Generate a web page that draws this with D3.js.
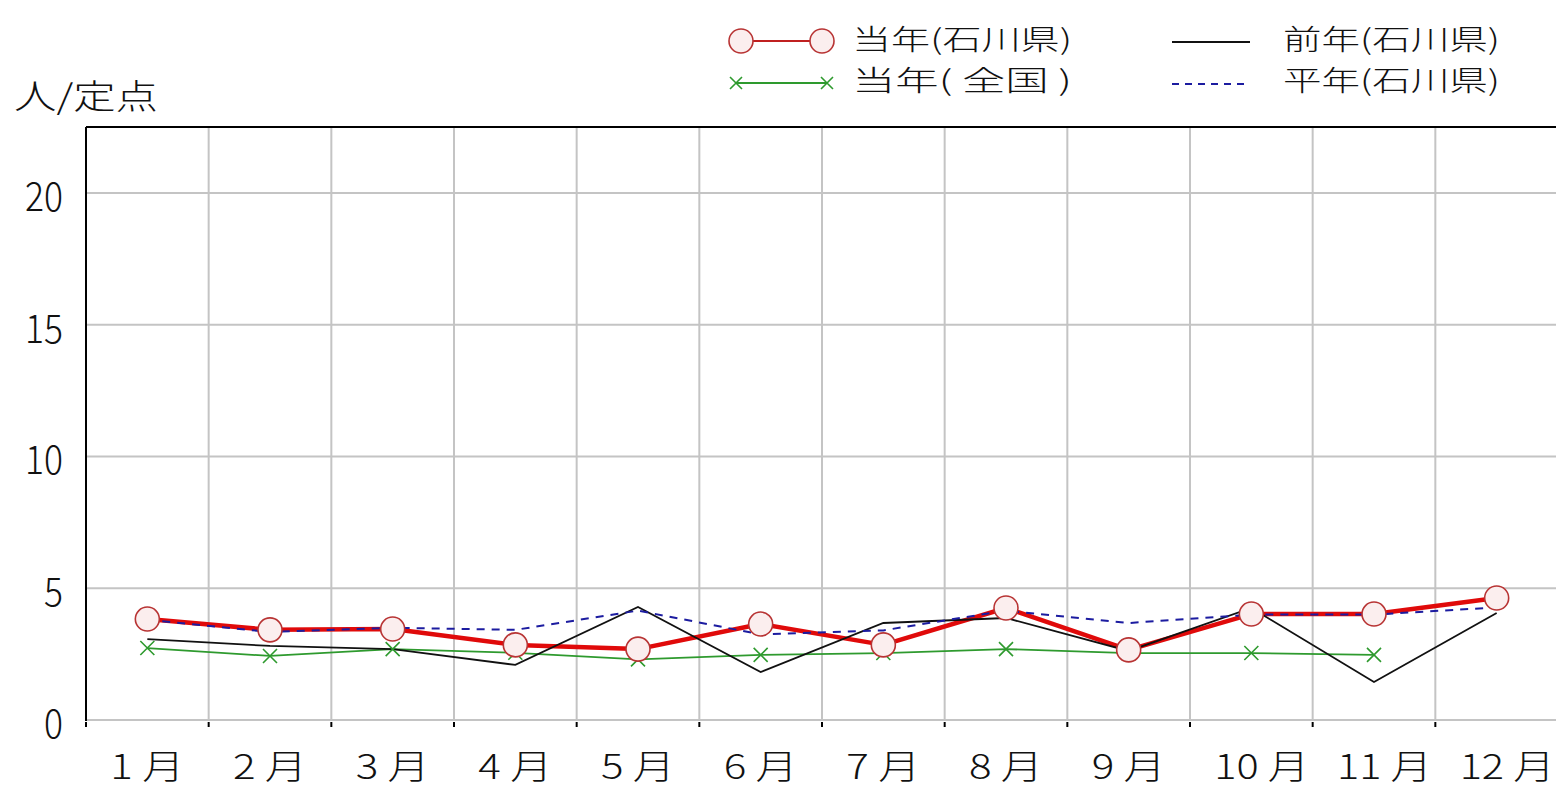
<!DOCTYPE html>
<html><head><meta charset="utf-8">
<script src="https://cdn.jsdelivr.net/npm/d3@7/dist/d3.min.js"></script>
<style>
html,body{margin:0;padding:0;background:#fff;}
svg{display:block;}
text{font-family:"Noto Sans CJK JP","Noto Sans",sans-serif;fill:#111;font-weight:300;}
</style></head>
<body>
<svg id="chart" width="1556" height="788"></svg>
<script>
const months = ["1 月","2 月","3 月","4 月","5 月","6 月","7 月","8 月","9 月","10 月","11 月","12 月"];
const yTicks = [0,5,10,15,20];
const currentPref = [3.83,3.42,3.45,2.85,2.69,3.64,2.85,4.25,2.66,4.02,4.02,4.63];
const currentNation = [2.73,2.43,2.69,2.55,2.3,2.47,2.54,2.69,2.54,2.54,2.47];
const previousPref = [3.07,2.81,2.69,2.09,4.29,1.82,3.68,3.87,2.62,4.25,1.44,4.06];
const normalPref = [3.8,3.34,3.5,3.42,4.15,3.25,3.4,4.15,3.68,4.0,4.0,4.27];
const yLabel = "人/定点";
const legendItems = [
  {key:"cur", label:"当年(石川県)"},
  {key:"nat", label:"当年( 全国 )"},
  {key:"prev", label:"前年(石川県)"},
  {key:"norm", label:"平年(石川県)"}
];

(function(){
const svg = d3.select("#chart");
const pL = 86, pR = 1558, pT = 127, pB = 720;
const x = d3.scaleBand().domain(months).range([pL, pR]).paddingInner(0).paddingOuter(0);
const y = d3.scaleLinear().domain([0, 22.5]).range([pB, pT]);
const cx = i => x(months[i]) + x.bandwidth()/2;

// grid
const grid = svg.append("g");
grid.selectAll("line.h").data(yTicks).join("line").attr("class","h")
  .attr("x1", pL).attr("x2", pR).attr("y1", d=>y(d)).attr("y2", d=>y(d))
  .attr("stroke", "#c4c4c4").attr("stroke-width", 2);
grid.selectAll("line.v").data(months.slice(1)).join("line").attr("class","v")
  .attr("x1", d=>x(d)).attr("x2", d=>x(d)).attr("y1", pT).attr("y2", pB)
  .attr("stroke", "#c4c4c4").attr("stroke-width", 2);

// x ticks (small black marks below the axis)
svg.append("g").selectAll("line").data(months).join("line")
  .attr("x1", d=>x(d)).attr("x2", d=>x(d)).attr("y1", pB+2).attr("y2", pB+7)
  .attr("stroke", "#000").attr("stroke-width", 2);

// frame: left and top
svg.append("line").attr("x1", pL).attr("x2", pL).attr("y1", pT).attr("y2", pB+1)
  .attr("stroke", "#000").attr("stroke-width", 2);
svg.append("line").attr("x1", pL).attr("x2", pR).attr("y1", pT).attr("y2", pT)
  .attr("stroke", "#000").attr("stroke-width", 2);

// y tick labels
svg.append("g").selectAll("text").data(yTicks).join("text")
  .attr("x", 63).attr("y", d=>y(d)+1)
  .attr("text-anchor", "end").attr("dominant-baseline", "central")
  .attr("font-size", 40)
  .attr("textLength", d => String(d).length * 19)
  .attr("lengthAdjust", "spacingAndGlyphs")
  .text(d=>d);

// x labels
svg.append("g").selectAll("text").data(months).join("text")
  .attr("x", (d,i)=>cx(i) - 37).attr("y", 764)
  .attr("dominant-baseline", "central")
  .attr("font-size", 34)
  .attr("textLength", d => d.length > 3 ? 95 : 74)
  .attr("lengthAdjust", "spacingAndGlyphs")
  .text(d=>d);

// y label
svg.append("text").attr("x", 14).attr("y", 94).attr("dominant-baseline", "central")
  .attr("font-size", 34).attr("textLength", 144).attr("lengthAdjust", "spacingAndGlyphs")
  .text(yLabel);

const line = d3.line().x(d=>cx(d.i)).y(d=>y(d.v));
const toPts = arr => arr.map((v,i)=>({i, v}));

// series lines
svg.append("path").datum(toPts(currentPref)).attr("d", line)
  .attr("fill","none").attr("stroke","#e00a0a").attr("stroke-width",4.5).attr("stroke-linejoin","round");
svg.append("path").datum(toPts(currentNation)).attr("d", line)
  .attr("fill","none").attr("stroke","#2e9a2e").attr("stroke-width",1.8);
svg.append("path").datum(toPts(previousPref)).attr("d", line)
  .attr("fill","none").attr("stroke","#111").attr("stroke-width",1.8);
svg.append("path").datum(toPts(normalPref)).attr("d", line)
  .attr("fill","none").attr("stroke","#1c1ca0").attr("stroke-width",2).attr("stroke-dasharray","8,7");

// green x markers
function crossPath(px, py, s){ return `M${px-s},${py-s}L${px+s},${py+s}M${px-s},${py+s}L${px+s},${py-s}`; }
svg.append("g").selectAll("path").data(toPts(currentNation)).join("path")
  .attr("d", d=>crossPath(cx(d.i), y(d.v), 7))
  .attr("stroke","#2e9a2e").attr("stroke-width",1.6).attr("fill","none");

// red circles
svg.append("g").selectAll("circle").data(toPts(currentPref)).join("circle")
  .attr("cx", d=>cx(d.i)).attr("cy", d=>y(d.v)).attr("r", 12)
  .attr("fill","#fbeeee").attr("stroke","#b83434").attr("stroke-width",1.6);

// legend
const lg = svg.append("g");
lg.append("line").attr("x1",741).attr("x2",822).attr("y1",41).attr("y2",41).attr("stroke","#c02020").attr("stroke-width",2);
[741,822].forEach(px=>lg.append("circle").attr("cx",px).attr("cy",41).attr("r",12)
  .attr("fill","#fbeeee").attr("stroke","#b83434").attr("stroke-width",1.6));
lg.append("line").attr("x1",736).attr("x2",827).attr("y1",83).attr("y2",83).attr("stroke","#2e9a2e").attr("stroke-width",1.8);
[736,827].forEach(px=>lg.append("path").attr("d",crossPath(px,83,6)).attr("stroke","#2e9a2e").attr("stroke-width",1.6));
lg.append("line").attr("x1",1172).attr("x2",1250).attr("y1",42).attr("y2",42).attr("stroke","#111").attr("stroke-width",2);
lg.append("line").attr("x1",1172).attr("x2",1250).attr("y1",84).attr("y2",84).attr("stroke","#1c1ca0").attr("stroke-width",2).attr("stroke-dasharray","7,6");

const legendPos = {cur:[852,38], nat:[852,79], prev:[1283,38], norm:[1283,79]};
lg.selectAll("text").data(legendItems).join("text")
  .attr("x", d=>legendPos[d.key][0]).attr("y", d=>legendPos[d.key][1])
  .attr("dominant-baseline","central").attr("font-size",28)
  .attr("textLength", d => d.key==="cur"||d.key==="nat" ? 220 : 217)
  .attr("lengthAdjust","spacingAndGlyphs")
  .style("white-space","pre")
  .text(d=>d.label);
})();
</script>
</body></html>
